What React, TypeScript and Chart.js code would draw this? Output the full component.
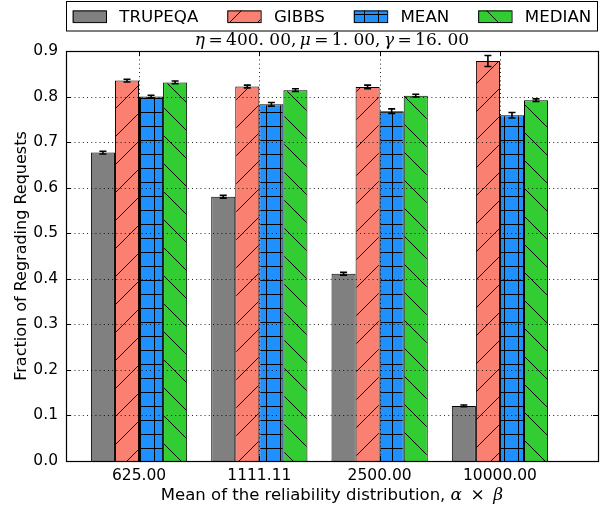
import React, { useEffect, useRef } from "react";
import { Chart, registerables } from "chart.js";

Chart.register(...registerables);

const categories = ["625.00", "1111.11", "2500.00", "10000.00"];
const seriesNames = ["TRUPEQA", "GIBBS", "MEAN", "MEDIAN"];
const trupeqa = [0.677, 0.58, 0.411, 0.121];
const gibbs = [0.835, 0.822, 0.821, 0.878];
const meanVals = [0.8, 0.783, 0.768, 0.759];
const medianVals = [0.831, 0.814, 0.802, 0.792];
const trupeqaErr = [0.003, 0.003, 0.003, 0.002];
const gibbsErr = [0.003, 0.003, 0.004, 0.012];
const meanErr = [0.003, 0.004, 0.005, 0.006];
const medianErr = [0.003, 0.003, 0.003, 0.003];
const yTicks = [0, 0.1, 0.2, 0.3, 0.4, 0.5, 0.6, 0.7, 0.8, 0.9];
const colors = ["#808080", "#FA8072", "#1E90FF", "#32CD32"];
const hatches = ["", "/", "+", "\\"];

const W = 601;
const H = 509;
const SANS = "'DejaVu Sans', sans-serif";
const SERIF = "'DejaVu Serif', serif";

function makePattern(color: string, kind: string): CanvasPattern | string {
  if (!kind) return color;
  const size = kind === "+" ? 14 : 28;
  const c = document.createElement("canvas");
  c.width = size;
  c.height = size;
  const g = c.getContext("2d")!;
  g.fillStyle = color;
  g.fillRect(0, 0, size, size);
  g.strokeStyle = "#000";
  g.lineWidth = 1;
  g.beginPath();
  if (kind === "+") {
    g.moveTo(0, 0.5);
    g.lineTo(size, 0.5);
    g.moveTo(0.5, 0);
    g.lineTo(0.5, size);
  } else if (kind === "/") {
    g.moveTo(-2, size + 2);
    g.lineTo(size + 2, -2);
    g.moveTo(-2, 2);
    g.lineTo(2, -2);
    g.moveTo(size - 2, size + 2);
    g.lineTo(size + 2, size - 2);
  } else {
    g.moveTo(-2, -2);
    g.lineTo(size + 2, size + 2);
    g.moveTo(size - 2, -2);
    g.lineTo(size + 2, 2);
    g.moveTo(-2, size - 2);
    g.lineTo(2, size + 2);
  }
  g.stroke();
  return g.createPattern(c, "repeat")!;
}

type Run = { t: string; font: string };

function drawRuns(ctx: CanvasRenderingContext2D, runs: Run[], cx: number, y: number) {
  let total = 0;
  for (const r of runs) {
    ctx.font = r.font;
    total += ctx.measureText(r.t).width;
  }
  let x = cx - total / 2;
  ctx.textAlign = "left";
  for (const r of runs) {
    ctx.font = r.font;
    ctx.fillText(r.t, x, y);
    x += ctx.measureText(r.t).width;
  }
}

export default function App() {
  const ref = useRef<HTMLCanvasElement | null>(null);

  useEffect(() => {
    const canvas = ref.current!;
    const values = [trupeqa, gibbs, meanVals, medianVals];
    const errs = [trupeqaErr, gibbsErr, meanErr, medianErr];
    const fills = colors.map((c, i) => makePattern(c, hatches[i]));

    const decor = {
      id: "decor",
      beforeDraw(chart: any) {
        const ctx = chart.ctx;
        ctx.save();
        ctx.fillStyle = "#fff";
        ctx.fillRect(0, 0, chart.width, chart.height);
        ctx.restore();
      },
      afterDatasetsDraw(chart: any) {
        const ctx: CanvasRenderingContext2D = chart.ctx;
        const a = chart.chartArea;
        const xs = chart.scales.x;
        const ys = chart.scales.y;
        ctx.save();
        // dotted grid
        ctx.strokeStyle = "rgba(0,0,0,0.85)";
        ctx.lineWidth = 1;
        ctx.setLineDash([1, 3.2]);
        ctx.beginPath();
        yTicks.forEach((v) => {
          const py = Math.round(ys.getPixelForValue(v)) + 0.5;
          ctx.moveTo(a.left, py);
          ctx.lineTo(a.right, py);
        });
        categories.forEach((_, i) => {
          const px = Math.round(xs.getPixelForValue(i)) + 0.5;
          ctx.moveTo(px, a.top);
          ctx.lineTo(px, a.bottom);
        });
        ctx.stroke();
        ctx.setLineDash([]);
        // error bars
        ctx.strokeStyle = "#000";
        ctx.lineWidth = 1.6;
        values.forEach((vals, di) => {
          const meta = chart.getDatasetMeta(di);
          meta.data.forEach((el: any, i: number) => {
            const x = el.x;
            const y1 = ys.getPixelForValue(vals[i] - errs[di][i]);
            const y2 = ys.getPixelForValue(vals[i] + errs[di][i]);
            ctx.beginPath();
            ctx.moveTo(x, y1);
            ctx.lineTo(x, y2);
            ctx.moveTo(x - 3.5, y1);
            ctx.lineTo(x + 3.5, y1);
            ctx.moveTo(x - 3.5, y2);
            ctx.lineTo(x + 3.5, y2);
            ctx.stroke();
          });
        });
        // inner ticks
        ctx.lineWidth = 1;
        ctx.beginPath();
        yTicks.forEach((v) => {
          const py = Math.round(ys.getPixelForValue(v)) + 0.5;
          ctx.moveTo(a.left, py);
          ctx.lineTo(a.left + 5, py);
          ctx.moveTo(a.right, py);
          ctx.lineTo(a.right - 5, py);
        });
        categories.forEach((_, i) => {
          const px = Math.round(xs.getPixelForValue(i)) + 0.5;
          ctx.moveTo(px, a.top);
          ctx.lineTo(px, a.top + 5);
          ctx.moveTo(px, a.bottom);
          ctx.lineTo(px, a.bottom - 5);
        });
        ctx.stroke();
        // frame
        ctx.strokeStyle = "#000";
        ctx.lineWidth = 1.2;
        ctx.strokeRect(Math.round(a.left) + 0.5, Math.round(a.top) + 0.5, Math.round(a.right - a.left), Math.round(a.bottom - a.top));
        ctx.restore();
      },
      afterDraw(chart: any) {
        const ctx: CanvasRenderingContext2D = chart.ctx;
        const a = chart.chartArea;
        ctx.save();
        ctx.fillStyle = "#000";
        ctx.textBaseline = "alphabetic";
        // legend (expanded across the axes width)
        const fs = 16.67;
        const lgFont = `${fs}px ${SANS}`;
        ctx.font = lgFont;
        const patchW = 2 * fs;
        const patchH = 0.7 * fs;
        const textPad = 0.8 * fs;
        const border = 0.4 * fs;
        const boxL = a.left;
        const boxR = a.right;
        const boxT = 1.5;
        const boxB = 31;
        const widths = seriesNames.map((s) => patchW + textPad + ctx.measureText(s).width);
        const inner = boxR - boxL - 2 * border;
        const gap = (inner - widths.reduce((p, c) => p + c, 0)) / (seriesNames.length - 1);
        ctx.strokeStyle = "#000";
        ctx.lineWidth = 1;
        ctx.strokeRect(boxL + 0.5, boxT, boxR - boxL - 1, boxB - boxT);
        let x = boxL + border;
        const cy = (boxT + boxB) / 2;
        seriesNames.forEach((s, i) => {
          ctx.fillStyle = fills[i] as any;
          ctx.fillRect(x, cy - patchH / 2, patchW, patchH);
          ctx.strokeStyle = "#000";
          ctx.lineWidth = 1;
          ctx.strokeRect(x + 0.5, cy - patchH / 2 + 0.5, patchW, patchH);
          ctx.fillStyle = "#000";
          ctx.font = lgFont;
          ctx.textAlign = "left";
          ctx.textBaseline = "middle";
          ctx.fillText(s, x + patchW + textPad, cy + 1);
          x += widths[i] + gap;
        });
        ctx.textBaseline = "alphabetic";
        const cx = (a.left + a.right) / 2;
        const reg = `17px ${SERIF}`;
        const it = `italic 17px ${SERIF}`;
        const ts = "\u2009";
        drawRuns(
          ctx,
          [
            { t: "η", font: it },
            { t: `${ts}=${ts}400. 00,${ts}`, font: reg },
            { t: "μ", font: it },
            { t: `${ts}=${ts}1. 00,${ts}`, font: reg },
            { t: "γ", font: it },
            { t: `${ts}=${ts}16. 00`, font: reg },
          ],
          cx,
          45
        );
        // x title
        const itx = `italic 17px ${SERIF}`;
        drawRuns(
          ctx,
          [
            { t: "Mean of the reliability distribution, ", font: `16.5px ${SANS}` },
            { t: "α", font: itx },
            { t: "\u2002×\u2002", font: `17px ${SERIF}` },
            { t: "β", font: itx },
          ],
          cx,
          500
        );
        // y title
        ctx.translate(22, (a.top + a.bottom) / 2);
        ctx.rotate(-Math.PI / 2);
        ctx.font = `16px ${SANS}`;
        ctx.textAlign = "center";
        ctx.textBaseline = "middle";
        ctx.fillText("Fraction of Regrading Requests", 0, 0);
        ctx.restore();
      },
    };

    const chart = new Chart(canvas, {
      type: "bar",
      data: {
        datasets: seriesNames.map((name, di) => ({
          label: name,
          data: values[di].map((v, i) => ({ x: i, y: v })),
          backgroundColor: fills[di] as any,
          borderColor: "#000",
          borderWidth: 1,
          categoryPercentage: 0.8,
          barPercentage: 1.0,
        })),
      },
      options: {
        responsive: false,
        animation: false,
        devicePixelRatio: 1,
        layout: { padding: { left: 0, right: 3, top: 51, bottom: 0 } },
        plugins: {
          legend: { display: false },
          title: { display: false },
          tooltip: { enabled: false },
        },
        scales: {
          x: {
            type: "linear",
            min: -0.607,
            max: 3.815,
            offset: false,
            grid: { display: false, drawTicks: false },
            border: { display: false },
            afterBuildTicks: (s: any) => {
              s.ticks = categories.map((_, i) => ({ value: i }));
            },
            afterFit: (s: any) => {
              s.height = 48;
            },
            ticks: {
              color: "#000",
              font: { family: SANS, size: 15.5 },
              padding: 6,
              maxRotation: 0,
              autoSkip: false,
              callback: (v: any) => categories[Math.round(Number(v))] ?? "",
            },
          },
          y: {
            type: "linear",
            min: 0,
            max: 0.9,
            grid: { display: false, drawTicks: false },
            border: { display: false },
            afterBuildTicks: (s: any) => {
              s.ticks = yTicks.map((v) => ({ value: v }));
            },
            afterFit: (s: any) => {
              s.width = 66;
            },
            ticks: {
              color: "#000",
              font: { family: SANS, size: 15.5 },
              padding: 8,
              callback: (v: any) => Number(v).toFixed(1),
            },
          },
        },
      },
      plugins: [decor],
    } as any);
    return () => chart.destroy();
  }, []);

  return (
    <div style={{ position: "fixed", left: 0, top: 0, width: W, height: H, background: "#fff" }}>
      <canvas ref={ref} width={W} height={H} style={{ width: W, height: H, display: "block" }} />
    </div>
  );
}
